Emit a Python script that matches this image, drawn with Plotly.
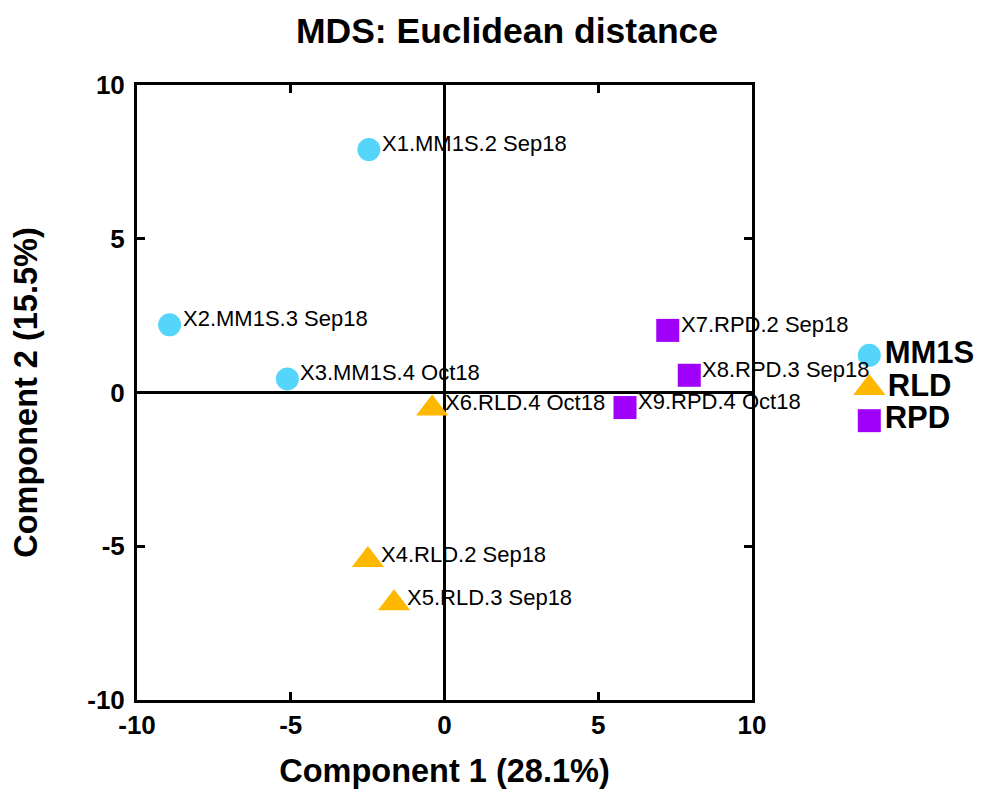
import plotly.graph_objects as go

# MDS coordinates of the nine samples
sample_labels = [
    "X1.MM1S.2 Sep18", "X2.MM1S.3 Sep18", "X3.MM1S.4 Oct18",
    "X4.RLD.2 Sep18", "X5.RLD.3 Sep18", "X6.RLD.4 Oct18",
    "X7.RPD.2 Sep18", "X8.RPD.3 Sep18", "X9.RPD.4 Oct18",
]
comp1 = [-2.46, -8.94, -5.11, -2.49, -1.64, -0.40, 7.26, 7.96, 5.87]
comp2 = [7.90, 2.20, 0.44, -5.45, -6.85, -0.52, 2.02, 0.56, -0.49]
groups = ["MM1S", "MM1S", "MM1S", "RLD", "RLD", "RLD", "RPD", "RPD", "RPD"]

group_names = ["MM1S", "RLD", "RPD"]
group_colors = ["#55D5FA", "#FFB800", "#A000F8"]
group_symbols = ["circle", "triangle-up", "square"]
group_sizes = [23, 28, 23]

x_ticks = [-10, -5, 0, 5, 10]
y_ticks = [-10, -5, 0, 5, 10]

FONT = "Liberation Sans, Arial, Helvetica, sans-serif"

# figure geometry (pixels)
W, H = 981, 789
ML, MR, MT, MB = 137, 10, 85, 89
plot_w = W - ML - MR
main_right = 752          # right edge of the scatter panel
key_left, key_right = 858, 971
key_top, key_bottom = 339, 437
plot_h = H - MT - MB

fig = go.Figure()
for name, color, symbol, size in zip(group_names, group_colors, group_symbols, group_sizes):
    idx = [i for i, g in enumerate(groups) if g == name]
    fig.add_trace(go.Scatter(
        x=[comp1[i] for i in idx],
        y=[comp2[i] for i in idx],
        mode="markers",
        name=name,
        marker=dict(color=color, symbol=symbol, size=size, opacity=1,
                    line=dict(width=0)),
        hoverinfo="skip",
        showlegend=False,
    ))

# group key drawn on its own small category axis at the right
fig.add_trace(go.Scatter(
    x=[0] * len(group_names),
    y=group_names,
    mode="markers+text",
    text=group_names,
    textposition="middle right",
    textfont=dict(family=FONT, size=31, color="black", weight="bold"),
    marker=dict(color=group_colors, symbol=group_symbols, size=group_sizes,
                opacity=1, line=dict(width=0)),
    xaxis="x2", yaxis="y2",
    hoverinfo="skip", showlegend=False, cliponaxis=False,
))

# sample names to the right of each point
for x, y, lab in zip(comp1, comp2, sample_labels):
    fig.add_annotation(
        x=x, y=y, text=lab, showarrow=False,
        xanchor="left", yanchor="middle", xshift=11, yshift=6,
        font=dict(family=FONT, size=22, color="black"),
    )

axis_common = dict(
    range=[-10, 10],
    showgrid=False,
    zeroline=True, zerolinecolor="black", zerolinewidth=3,
    showline=True, linecolor="black", linewidth=3, mirror="ticks",
    ticks="inside", ticklen=8, tickwidth=3, tickcolor="black",
    tickfont=dict(family=FONT, size=26, color="black", weight="bold"),
)

fig.update_layout(
    width=W, height=H,
    margin=dict(l=ML, r=MR, t=MT, b=MB, autoexpand=False),
    paper_bgcolor="white", plot_bgcolor="white",
    title=dict(text="MDS: Euclidean distance", x=507 / W, xanchor="center",
               y=1 - 31 / H, yanchor="middle",
               font=dict(family=FONT, size=35.5, color="black", weight="bold")),
    xaxis=dict(
        **axis_common,
        domain=[0, (main_right - ML) / plot_w],
        tickvals=x_ticks, ticktext=[str(v) for v in x_ticks],
        title=dict(text="Component 1 (28.1%)", standoff=22,
                   font=dict(family=FONT, size=32.5, color="black", weight="bold")),
    ),
    yaxis=dict(
        **axis_common,
        tickvals=y_ticks, ticktext=[str(v) for v in y_ticks],
        ticklabelstandoff=4,
        title=dict(text="Component 2 (15.5%)", standoff=40,
                   font=dict(family=FONT, size=32.5, color="black", weight="bold")),
    ),
    xaxis2=dict(
        domain=[(key_left - ML) / plot_w, (key_right - ML) / plot_w],
        range=[-1, 9], visible=False, anchor="y2",
    ),
    yaxis2=dict(
        domain=[(H - MB - key_bottom) / plot_h, (H - MB - key_top) / plot_h],
        type="category", categoryorder="array", categoryarray=group_names[::-1],
        range=[-0.5, 2.5], visible=False, anchor="x2",
    ),
    showlegend=False,
)

fig.write_html("out.html")
